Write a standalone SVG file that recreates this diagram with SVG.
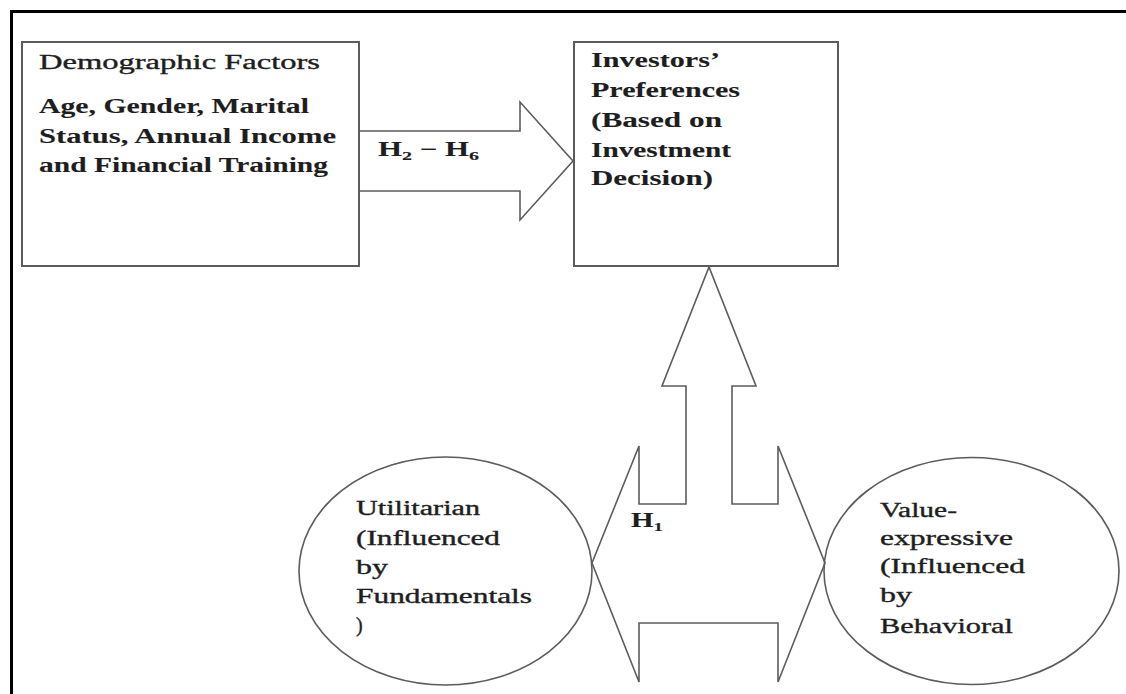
<svg xmlns="http://www.w3.org/2000/svg" width="1126" height="694" viewBox="0 0 1126 694">
<style>
  .frame{fill:none;stroke:#000;stroke-width:3}
  .box{fill:none;stroke:#5c5c5c;stroke-width:2}
  .shape{fill:none;stroke:#5c5c5c;stroke-width:1.6;stroke-linejoin:miter}
  .t{font-family:"Liberation Serif","Times New Roman",serif;font-size:20px;fill:#1e1e1e;stroke:#1e1e1e;stroke-width:0.35}
  .b{font-weight:bold;stroke-width:0.1}
  .sub{font-size:13px}
</style>
<rect width="1126" height="694" fill="#fff"/>
<path class="frame" d="M11.5,694 V11.5 H1126"/>

<g id="node-demographic">
  <rect class="box" x="22" y="42" width="337" height="224"/>
  <text class="t" x="39" y="68.5" textLength="281" lengthAdjust="spacingAndGlyphs">Demographic Factors</text>
  <text class="t b" x="39" y="113" textLength="270" lengthAdjust="spacingAndGlyphs">Age, Gender, Marital</text>
  <text class="t b" x="39" y="142.5" textLength="297" lengthAdjust="spacingAndGlyphs">Status, Annual Income</text>
  <text class="t b" x="39" y="172" textLength="289" lengthAdjust="spacingAndGlyphs">and Financial Training</text>
</g>

<g id="node-preferences">
  <rect class="box" x="574" y="42" width="264" height="224"/>
  <text class="t b" x="591" y="67" textLength="129" lengthAdjust="spacingAndGlyphs">Investors’</text>
  <text class="t b" x="591" y="97" textLength="149" lengthAdjust="spacingAndGlyphs">Preferences</text>
  <text class="t b" x="591" y="127" textLength="131" lengthAdjust="spacingAndGlyphs">(Based on</text>
  <text class="t b" x="591" y="157" textLength="140" lengthAdjust="spacingAndGlyphs">Investment</text>
  <text class="t b" x="591" y="185" textLength="122" lengthAdjust="spacingAndGlyphs">Decision)</text>
</g>

<g id="node-utilitarian">
  <ellipse class="shape" cx="445.5" cy="571" rx="146.5" ry="114"/>
  <text class="t" x="356" y="515" textLength="124" lengthAdjust="spacingAndGlyphs">Utilitarian</text>
  <text class="t" x="356" y="545" textLength="144" lengthAdjust="spacingAndGlyphs">(Influenced</text>
  <text class="t" x="356" y="574" textLength="32" lengthAdjust="spacingAndGlyphs">by</text>
  <text class="t" x="356" y="603" textLength="176" lengthAdjust="spacingAndGlyphs">Fundamentals</text>
  <text class="t" x="356" y="632">)</text>
</g>

<g id="node-value">
  <ellipse class="shape" cx="971.5" cy="571" rx="147.5" ry="113.5"/>
  <text class="t" x="880" y="517" textLength="77" lengthAdjust="spacingAndGlyphs">Value-</text>
  <text class="t" x="880" y="545" textLength="133" lengthAdjust="spacingAndGlyphs">expressive</text>
  <text class="t" x="880" y="573" textLength="145" lengthAdjust="spacingAndGlyphs">(Influenced</text>
  <text class="t" x="880" y="602" textLength="32" lengthAdjust="spacingAndGlyphs">by</text>
  <text class="t" x="880" y="633" textLength="133" lengthAdjust="spacingAndGlyphs">Behavioral</text>
</g>

<g id="connectors">
  <path class="shape" d="M359,131 H520 V102 L573,161 L520,220 V191 H359"/>
  <text class="t b" x="378" y="156" textLength="101" lengthAdjust="spacingAndGlyphs">H<tspan class="sub" dy="4">2</tspan><tspan dy="-4"> − H</tspan><tspan class="sub" dy="4">6</tspan></text>
  <path class="shape" d="M592,563 L639,446 V504 H686 V386 H662 L709,267 L756,386 H732 V504 H778 V446 L825,563 L778,682 V623 H639 V682 Z"/>
  <text class="t b" x="631" y="527" textLength="32" lengthAdjust="spacingAndGlyphs">H<tspan class="sub" dy="4">1</tspan></text>
</g>
</svg>
